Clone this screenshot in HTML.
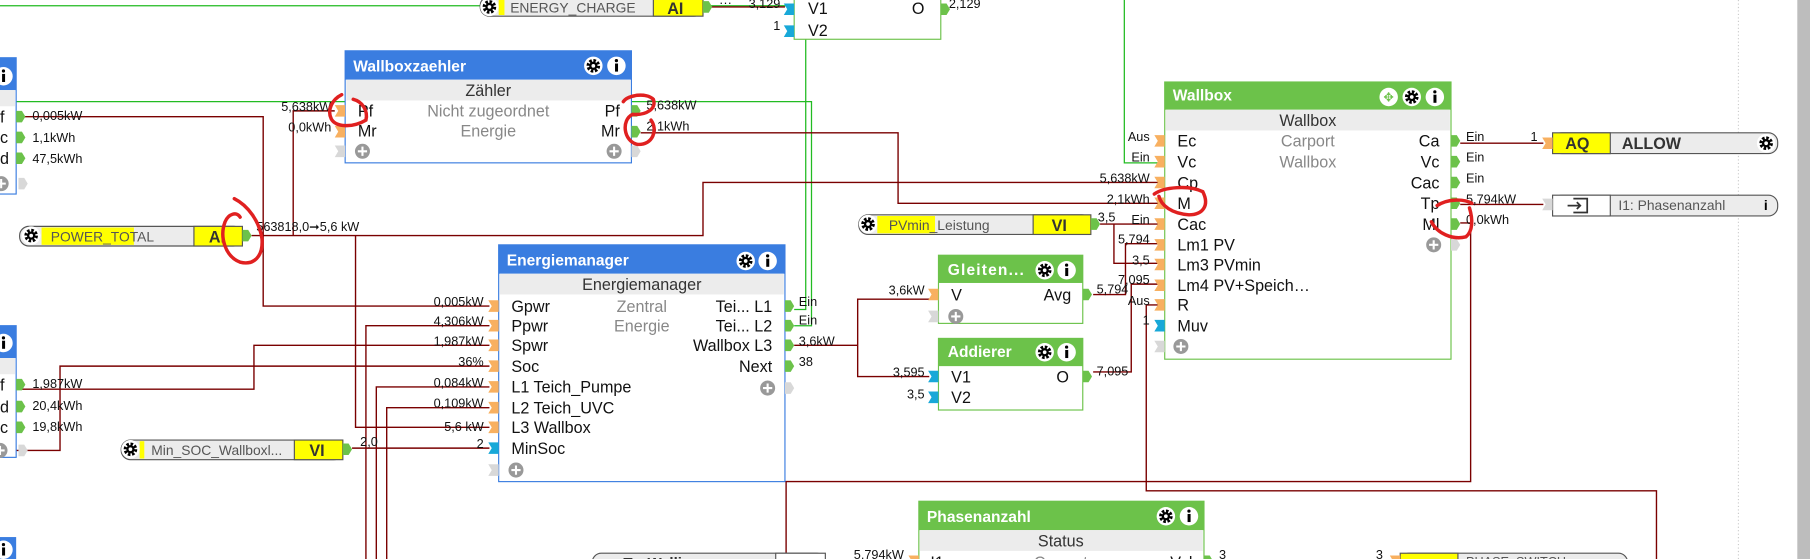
<!DOCTYPE html>
<html><head><meta charset="utf-8"><style>
html,body{margin:0;padding:0;background:#fff;overflow:hidden}
svg{display:block}
text{font-family:"Liberation Sans",sans-serif}
.v{font-size:11px;fill:#111}
.l{font-size:14px;fill:#111}
.g{font-size:14px;fill:#888}
.t{font-size:13.5px;fill:#fff;font-weight:bold}
.s{font-size:14px;fill:#333}
.r{stroke:#7a0000;stroke-width:1.2;fill:none}
.gr{stroke:#22bb22;stroke-width:1.1;fill:none}
.red{stroke:#e02020;stroke-width:3;fill:none;stroke-linecap:round}
</style></head><body>
<svg width="1810" height="559" viewBox="0 0 1568 484" preserveAspectRatio="none" xmlns="http://www.w3.org/2000/svg">
<defs>
<polygon id="pi" points="0,-5 9,-5 9,5 0,5 3,0" fill="#f8b060"/>
<polygon id="pc" points="0,-5 9,-5 9,5 0,5 3,0" fill="#18a8d8"/>
<polygon id="px" points="0,-5 9,-5 9,5 0,5 3,0" fill="#d8d8d8"/>
<polygon id="po" points="0,-5 5,-5 8,0 5,5 0,5" fill="#6cc24a"/>
<polygon id="pg" points="0,-5 5,-5 8,0 5,5 0,5" fill="#d8d8d8"/>
<g id="plus"><circle r="6.5" fill="#999"/><path d="M-4,0H4M0,-4V4" stroke="#fff" stroke-width="1.8"/></g>
<g id="gear"><circle r="8" fill="#fff"/><circle r="4.6" fill="none" stroke="#000" stroke-width="2.6" stroke-dasharray="2.2 1.4"/><circle r="3.6" fill="#000"/><circle r="1.6" fill="#fff"/></g>
<g id="info"><circle r="8" fill="#fff"/><rect x="-1.2" y="-2" width="2.6" height="7" fill="#000"/><circle cx="0" cy="-4.5" r="1.4" fill="#000"/></g>
</defs>

<line x1="1506" y1="0" x2="1506" y2="484" stroke="#ccc" stroke-dasharray="1 2"/>
<rect x="1557" y="0" width="11" height="484" fill="#bdbdbd"/>

<path class="gr" d="M0,5H690 M698,9V268H688 M0,88H703V282H688 M974,0V141H1003"/>

<path class="r" d="M614,6H680"/>
<path class="r" d="M218,204H609V158H1003"/>
<path class="r" d="M290,96H254V204"/>
<path class="r" d="M555,115H778V176H1003"/>
<path class="r" d="M18,101H228V265H424"/>
<path class="r" d="M308,204V370H424"/>
<path class="r" d="M424,282H317V484"/>
<path class="r" d="M424,299H220V337H18"/>
<path class="r" d="M424,317H52V390H0"/>
<path class="r" d="M424,335H326V484"/>
<path class="r" d="M424,353H335V484"/>
<path class="r" d="M305,388H424"/>
<path class="r" d="M688,299H743V259H805 M743,299V326H805"/>
<path class="r" d="M947,255H975V211H1003 M947,322H980V246H1003 M953,194H1003 M965,194V228H1003"/>
<path class="r" d="M681,484V417H1274V193H1265 M993,264V425H1435V484 M993,264H1003"/>
<path class="r" d="M1265,124H1337 M1265,177H1337"/>

<rect x="416" y="-3" width="193" height="17" rx="8" fill="#ececec" stroke="#555"/>
<rect x="432" y="-2" width="5" height="15" fill="#ff0"/>
<use href="#gear" x="424" y="6"/>
<text x="442" y="11" style="font-size:12px;fill:#555">ENERGY_CHARGE</text>
<rect x="566" y="-2" width="43" height="16" fill="#ff0" stroke="#555"/>
<text x="578" y="12" style="font-size:14px;font-weight:bold;fill:#333">AI</text>
<use href="#po" x="609" y="6"/>
<text x="623" y="6" class="v">···</text>
<text x="676" y="7" class="v" text-anchor="end">3,129</text>
<text x="676" y="26" class="v" text-anchor="end">1</text>

<rect x="688" y="-5" width="127" height="39" fill="#fff" stroke="#6cc24a"/>
<use href="#pc" x="679" y="8"/><use href="#pc" x="679" y="27"/>
<text x="700" y="12" class="l">V1</text><text x="700" y="31" class="l">V2</text>
<text x="790" y="12" class="l">O</text>
<use href="#po" x="815" y="8"/>
<text x="822" y="7" class="v">2,129</text>

<rect x="-20" y="50" width="34" height="118" fill="#fff" stroke="#3a7de0"/>
<rect x="-20" y="50" width="34" height="28" fill="#3a7de0"/>
<use href="#info" x="3" y="66"/>
<rect x="-19" y="78" width="32" height="14" fill="#ececec"/>
<text x="0" y="106" class="l">f</text><text x="0" y="124" class="l">c</text><text x="0" y="142" class="l">d</text>
<use href="#plus" x="1" y="159"/>
<use href="#po" x="14" y="101"/><use href="#po" x="14" y="119"/><use href="#po" x="14" y="137"/><use href="#pg" x="16" y="159"/>
<text x="28" y="104" class="v">0,005kW</text><text x="28" y="123" class="v">1,1kWh</text><text x="28" y="141" class="v">47,5kWh</text>

<rect x="299" y="44" width="248" height="97" fill="#fff" stroke="#3a7de0"/>
<rect x="299" y="44" width="248" height="25" fill="#3a7de0"/>
<text x="306" y="62" class="t">Wallboxzaehler</text>
<use href="#gear" x="514" y="57"/><use href="#info" x="534" y="57"/>
<rect x="300" y="69" width="246" height="18" fill="#ececec"/>
<text x="423" y="83" class="s" text-anchor="middle">Zähler</text>
<text x="310" y="101" class="l">Pf</text><text x="310" y="118" class="l">Mr</text>
<text x="423" y="101" class="g" text-anchor="middle">Nicht zugeordnet</text>
<text x="423" y="118" class="g" text-anchor="middle">Energie</text>
<text x="537" y="101" class="l" text-anchor="end">Pf</text><text x="537" y="118" class="l" text-anchor="end">Mr</text>
<use href="#pi" x="290" y="96"/><use href="#pi" x="290" y="114"/><use href="#px" x="290" y="131"/>
<use href="#plus" x="314" y="131"/><use href="#plus" x="532" y="131"/>
<use href="#po" x="547" y="96"/><use href="#po" x="547" y="114"/><use href="#pg" x="547" y="131"/>
<text x="287" y="96" class="v" text-anchor="end">5,638kW</text><text x="287" y="114" class="v" text-anchor="end">0,0kWh</text>
<text x="560" y="95" class="v">5,638kW</text><text x="560" y="113" class="v">2,1kWh</text>

<rect x="17" y="196" width="193" height="17" rx="8" fill="#ececec" stroke="#555"/>
<rect x="36" y="197" width="80" height="15" fill="#ff0"/>
<use href="#gear" x="27" y="204"/>
<text x="44" y="209" style="font-size:12px;fill:#555">POWER_TOTAL</text>
<rect x="168" y="196" width="42" height="17" fill="#ff0" stroke="#555"/>
<text x="181" y="210" style="font-size:14px;font-weight:bold;fill:#333">AI</text>
<use href="#po" x="210" y="204"/>
<text x="222" y="200" class="v">563818,0➞5,6 kW</text>

<rect x="-20" y="282" width="34" height="114" fill="#fff" stroke="#3a7de0"/>
<rect x="-20" y="282" width="34" height="28" fill="#3a7de0"/>
<use href="#info" x="3" y="297"/>
<rect x="-19" y="310" width="32" height="14" fill="#ececec"/>
<text x="0" y="338" class="l">f</text><text x="0" y="357" class="l">d</text><text x="0" y="375" class="l">c</text>
<use href="#plus" x="0" y="390"/>
<use href="#po" x="14" y="333"/><use href="#po" x="14" y="352"/><use href="#po" x="14" y="370"/><use href="#pg" x="16" y="390"/>
<text x="28" y="336" class="v">1,987kW</text><text x="28" y="355" class="v">20,4kWh</text><text x="28" y="373" class="v">19,8kWh</text>

<rect x="-20" y="465" width="34" height="30" fill="#3a7de0"/>
<use href="#info" x="3" y="476"/>

<rect x="105" y="381" width="192" height="17" rx="8" fill="#ececec" stroke="#555"/>
<rect x="121" y="382" width="4" height="15" fill="#ff0"/>
<use href="#gear" x="113" y="389"/>
<text x="131" y="394" style="font-size:12px;fill:#555">Min_SOC_Wallboxl...</text>
<rect x="255" y="381" width="42" height="17" fill="#ff0" stroke="#555"/>
<text x="268" y="395" style="font-size:14px;font-weight:bold;fill:#333">VI</text>
<use href="#po" x="297" y="389"/>
<text x="312" y="386" class="v">2,0</text>

<rect x="432" y="212" width="248" height="205" fill="#fff" stroke="#3a7de0"/>
<rect x="432" y="212" width="248" height="25" fill="#3a7de0"/>
<text x="439" y="230" class="t">Energiemanager</text>
<use href="#gear" x="646" y="226"/><use href="#info" x="665" y="226"/>
<rect x="433" y="237" width="246" height="18" fill="#ececec"/>
<text x="556" y="251" class="s" text-anchor="middle">Energiemanager</text>
<text x="443" y="270" class="l">Gpwr</text><text x="443" y="287" class="l">Ppwr</text><text x="443" y="304" class="l">Spwr</text><text x="443" y="322" class="l">Soc</text>
<text x="443" y="340" class="l">L1 Teich_Pumpe</text><text x="443" y="358" class="l">L2 Teich_UVC</text><text x="443" y="375" class="l">L3 Wallbox</text><text x="443" y="393" class="l">MinSoc</text>
<text x="556" y="270" class="g" text-anchor="middle">Zentral</text><text x="556" y="287" class="g" text-anchor="middle">Energie</text>
<text x="669" y="270" class="l" text-anchor="end">Tei... L1</text><text x="669" y="287" class="l" text-anchor="end">Tei... L2</text>
<text x="669" y="304" class="l" text-anchor="end">Wallbox L3</text><text x="669" y="322" class="l" text-anchor="end">Next</text>
<use href="#pi" x="423" y="265"/><use href="#pi" x="423" y="282"/><use href="#pi" x="423" y="299"/><use href="#pi" x="423" y="317"/>
<use href="#pi" x="423" y="335"/><use href="#pi" x="423" y="353"/><use href="#pi" x="423" y="370"/><use href="#pc" x="423" y="388"/><use href="#px" x="423" y="407"/>
<use href="#plus" x="447" y="407"/><use href="#plus" x="665" y="336"/>
<use href="#po" x="680" y="265"/><use href="#po" x="680" y="282"/><use href="#po" x="680" y="299"/><use href="#po" x="680" y="317"/><use href="#pg" x="680" y="336"/>
<g class="v" text-anchor="end">
<text x="419" y="265">0,005kW</text><text x="419" y="282">4,306kW</text><text x="419" y="299">1,987kW</text><text x="419" y="317">36%</text>
<text x="419" y="335">0,084kW</text><text x="419" y="353">0,109kW</text><text x="419" y="373">5,6 kW</text><text x="419" y="388">2</text>
</g>
<text x="692" y="265" class="v">Ein</text><text x="692" y="281" class="v">Ein</text><text x="692" y="299" class="v">3,6kW</text><text x="692" y="317" class="v">38</text>

<rect x="744" y="186" width="201" height="17" rx="8" fill="#ececec" stroke="#555"/>
<rect x="760" y="187" width="50" height="15" fill="#ff0"/>
<use href="#gear" x="752" y="194"/>
<text x="770" y="199" style="font-size:12px;fill:#555">PVmin_Leistung</text>
<rect x="895" y="186" width="50" height="17" fill="#ff0" stroke="#555"/>
<text x="911" y="200" style="font-size:14px;font-weight:bold;fill:#333">VI</text>
<use href="#po" x="945" y="194"/>
<text x="951" y="192" class="v">3,5</text>

<rect x="813" y="221" width="125" height="59" fill="#fff" stroke="#6cc24a"/>
<rect x="813" y="221" width="125" height="24" fill="#6cc24a"/>
<text x="821" y="238" class="t" style="letter-spacing:1px">Gleiten...</text>
<use href="#gear" x="905" y="234"/><use href="#info" x="924" y="234"/>
<text x="824" y="260" class="l">V</text><text x="928" y="260" class="l" text-anchor="end">Avg</text>
<use href="#pi" x="804" y="255"/><use href="#px" x="804" y="274"/><use href="#plus" x="828" y="274"/>
<use href="#po" x="938" y="255"/>
<text x="801" y="255" class="v" text-anchor="end">3,6kW</text>
<text x="950" y="254" class="v">5,794</text>

<rect x="813" y="293" width="125" height="62" fill="#fff" stroke="#6cc24a"/>
<rect x="813" y="293" width="125" height="24" fill="#6cc24a"/>
<text x="821" y="309" class="t">Addierer</text>
<use href="#gear" x="905" y="305"/><use href="#info" x="924" y="305"/>
<text x="824" y="331" class="l">V1</text><text x="824" y="349" class="l">V2</text><text x="926" y="331" class="l" text-anchor="end">O</text>
<use href="#pc" x="804" y="326"/><use href="#pc" x="804" y="344"/>
<use href="#po" x="938" y="326"/>
<text x="801" y="326" class="v" text-anchor="end">3,595</text><text x="801" y="345" class="v" text-anchor="end">3,5</text>
<text x="950" y="325" class="v">7,095</text>

<rect x="1009" y="71" width="248" height="240" fill="#fff" stroke="#6cc24a"/>
<rect x="1009" y="71" width="248" height="24" fill="#6cc24a"/>
<text x="1016" y="87" class="t">Wallbox</text>
<circle cx="1203" cy="84" r="8" fill="#fff"/><text x="1203" y="88" text-anchor="middle" style="font-size:11px;fill:#6cc24a">✥</text>
<use href="#gear" x="1223" y="84"/><use href="#info" x="1243" y="84"/>
<rect x="1010" y="95" width="246" height="18" fill="#ececec"/>
<text x="1133" y="109" class="s" text-anchor="middle">Wallbox</text>
<g class="l">
<text x="1020" y="127">Ec</text><text x="1020" y="145">Vc</text><text x="1020" y="163">Cp</text><text x="1020" y="181">M</text>
<text x="1020" y="199">Cac</text><text x="1020" y="217">Lm1 PV</text><text x="1020" y="234">Lm3 PVmin</text><text x="1020" y="252">Lm4  PV+Speich…</text>
<text x="1020" y="269">R</text><text x="1020" y="287">Muv</text>
</g>
<text x="1133" y="127" class="g" text-anchor="middle">Carport</text><text x="1133" y="145" class="g" text-anchor="middle">Wallbox</text>
<g class="l" text-anchor="end">
<text x="1247" y="127">Ca</text><text x="1247" y="145">Vc</text><text x="1247" y="163">Cac</text><text x="1247" y="181">Tp</text><text x="1247" y="199">Ml</text>
</g>
<use href="#pi" x="1000" y="122"/><use href="#pi" x="1000" y="140"/><use href="#pi" x="1000" y="158"/><use href="#pi" x="1000" y="176"/>
<use href="#pi" x="1000" y="194"/><use href="#pi" x="1000" y="212"/><use href="#pi" x="1000" y="229"/><use href="#pi" x="1000" y="247"/>
<use href="#pi" x="1000" y="264"/><use href="#pc" x="1000" y="282"/><use href="#px" x="1000" y="300"/><use href="#plus" x="1023" y="300"/>
<use href="#po" x="1257" y="122"/><use href="#po" x="1257" y="140"/><use href="#po" x="1257" y="158"/><use href="#po" x="1257" y="176"/><use href="#po" x="1257" y="194"/><use href="#pg" x="1257" y="212"/>
<use href="#plus" x="1242" y="212"/>
<g class="v" text-anchor="end">
<text x="996" y="122">Aus</text><text x="996" y="140">Ein</text><text x="996" y="158">5,638kW</text><text x="996" y="176">2,1kWh</text>
<text x="996" y="194">Ein</text><text x="996" y="211">5,794</text><text x="996" y="229">3,5</text><text x="996" y="246">7,095</text>
<text x="996" y="264">Aus</text><text x="996" y="281">1</text>
</g>
<text x="1270" y="122" class="v">Ein</text><text x="1270" y="140" class="v">Ein</text><text x="1270" y="158" class="v">Ein</text>
<text x="1270" y="176" class="v">5,794kW</text><text x="1270" y="194" class="v">0,0kWh</text>

<rect x="1345" y="115" width="195" height="18" rx="8" fill="#ececec" stroke="#555"/>
<rect x="1345" y="115" width="50" height="18" fill="#ff0" stroke="#555"/>
<text x="1356" y="129" style="font-size:14px;font-weight:bold;fill:#333">AQ</text>
<text x="1405" y="129" style="font-size:14px;font-weight:bold;fill:#333">ALLOW</text>
<use href="#gear" x="1530" y="124"/>
<use href="#pi" x="1336" y="124"/>
<text x="1332" y="122" class="v" text-anchor="end">1</text>

<rect x="1345" y="169" width="195" height="18" rx="8" fill="#ececec" stroke="#555"/>
<rect x="1345" y="169" width="50" height="18" fill="#fff" stroke="#555"/>
<path d="M1363,172H1375V184H1363 M1358,178H1369 M1366,175L1369,178L1366,181" stroke="#333" stroke-width="1.5" fill="none"/>
<text x="1402" y="182" style="font-size:12px;fill:#555">I1: Phasenanzahl</text>
<text x="1528" y="182" style="font-size:12px;font-weight:bold">i</text>
<use href="#px" x="1336" y="177"/>

<rect x="796" y="434" width="247" height="60" fill="#fff" stroke="#6cc24a"/>
<rect x="796" y="434" width="247" height="25" fill="#6cc24a"/>
<text x="803" y="452" class="t">Phasenanzahl</text>
<use href="#gear" x="1010" y="447"/><use href="#info" x="1030" y="447"/>
<rect x="797" y="459" width="245" height="18" fill="#ececec"/>
<text x="919" y="473" class="s" text-anchor="middle">Status</text>
<text x="806" y="492" class="l">I1</text><text x="919" y="492" class="g" text-anchor="middle">Carport</text><text x="1033" y="492" class="l" text-anchor="end">Val</text>
<use href="#pi" x="787" y="486"/><use href="#po" x="1043" y="486"/>
<text x="783" y="484" class="v" text-anchor="end">5,794kW</text>
<text x="1056" y="484" class="v">3</text>

<rect x="513" y="479" width="202" height="17" rx="8" fill="#ececec" stroke="#555"/>
<text x="540" y="492" style="font-size:13px;font-weight:bold;fill:#333">T... Walli...</text>
<rect x="672" y="479" width="43" height="17" fill="#fff" stroke="#555"/>
<rect x="1213" y="479" width="197" height="17" rx="8" fill="#ececec" stroke="#555"/>
<rect x="1213" y="479" width="50" height="17" fill="#ff0" stroke="#555"/>
<text x="1270" y="490" style="font-size:11px;fill:#555">PHASE_SWITCH</text>
<use href="#pi" x="1204" y="486"/>
<text x="1198" y="484" class="v" text-anchor="end">3</text>

<path class="red" d="M296,82C288,86 283,95 287,103C291,110 305,111 317,104C319,96 314,88 306,86"/>
<path class="red" d="M540,88C544,82 560,80 566,86C569,94 560,100 548,99C538,104 540,122 552,125C566,126 570,112 564,104"/>
<path class="red" d="M203,172C215,178 225,192 227,207C228,222 220,230 208,227C195,222 190,205 195,192C198,185 205,183 208,188"/>
<path class="red" d="M1000,168C1008,162 1030,160 1042,166C1048,178 1042,186 1030,186C1015,185 1006,178 1004,170"/>
<path class="red" d="M1245,178C1254,172 1268,172 1275,176M1273,180C1276,190 1276,200 1270,205C1258,208 1245,202 1240,192"/>
</svg>
</body></html>
